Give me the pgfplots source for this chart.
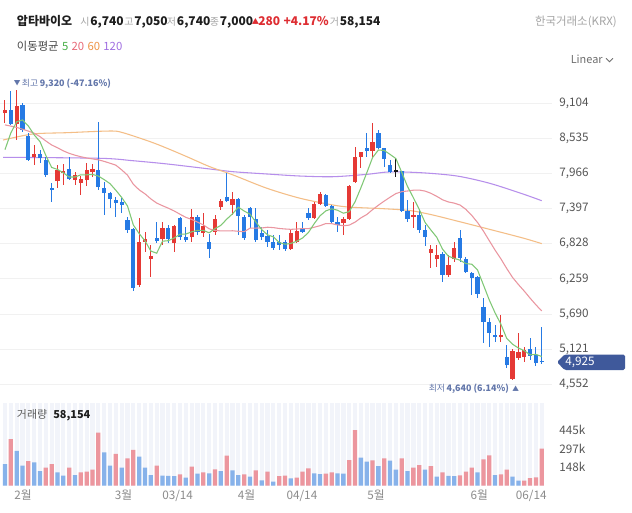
\documentclass[border=0pt]{standalone}
\usepackage{fontspec}
\setmainfont{Noto Sans CJK KR}
\usepackage{pgfplots}
\pgfplotsset{compat=1.18}
\usepackage{pgfplotstable}

\definecolor{cRed}{RGB}{229,57,53}
\definecolor{cBlue}{RGB}{38,122,228}
\definecolor{cDoji}{RGB}{25,25,25}
\definecolor{vRed}{RGB}{236,150,158}
\definecolor{vBlue}{RGB}{135,178,234}
\definecolor{ma5}{RGB}{128,200,118}
\definecolor{ma20}{RGB}{234,150,160}
\definecolor{ma60}{RGB}{244,190,135}
\definecolor{ma120}{RGB}{182,142,235}
\definecolor{gridc}{RGB}{241,241,241}
\definecolor{stripe}{RGB}{242,244,250}
\definecolor{cDark}{RGB}{30,30,30}
\definecolor{cLbl}{RGB}{165,165,165}
\definecolor{cHdrRed}{RGB}{222,45,50}
\definecolor{cAxis}{RGB}{85,85,85}
\definecolor{cX}{RGB}{140,140,140}
\definecolor{cMark}{RGB}{98,118,170}
\definecolor{cTag}{RGB}{63,89,155}
\definecolor{l5}{RGB}{70,175,70}
\definecolor{l20}{RGB}{232,105,120}
\definecolor{l60}{RGB}{238,148,70}
\definecolor{l120}{RGB}{160,110,225}
\definecolor{cG70}{RGB}{70,70,70}
\definecolor{cG90}{RGB}{90,90,90}
\definecolor{cG110}{RGB}{110,110,110}

\newcommand\fs[1]{\fontsize{#1}{#1}\selectfont}
\newcommand\hdr[2]{{\color{cLbl}\fs{7.5}#1}\hspace{0.6pt}{\color{cDark}\fs{9}\bfseries #2}}

% rising candles (close >= open): red
\pgfplotstableread{
i O H L C
0 8942 9152 8780 8990
2 8764 9320 8505 9055
5 8230 8424 8101 8279
9 7842 8101 7729 8020
10 7972 8117 7778 8004
12 7858 7988 7778 7939
13 7810 7923 7616 7875
14 7858 8133 7761 8020
15 7988 8117 7907 8036
23 6161 7244 6128 6856
24 6856 7018 6700 6904
25 6581 6807 6290 6630
27 6904 7179 6807 7082
29 6840 7131 6694 7115
32 6937 7390 6856 7260
34 7001 7325 6937 7115
36 7023 7293 6969 7222
37 7427 7547 7373 7524
39 7454 7670 7293 7547
49 6743 7050 6727 7001
50 6856 7179 6840 7034
53 7244 7503 7228 7470
54 7470 7664 7454 7632
58 7163 7260 6969 7228
59 7228 7778 7212 7761
60 7826 8392 7810 8230
61 8230 8311 8052 8311
63 8328 8780 8214 8473
70 7260 7503 7082 7293
73 6678 6807 6436 6743
74 6581 6807 6452 6646
76 6323 6646 6290 6484
77 6581 6856 6533 6759
85 5320 5676 5239 5352
87 4641 5126 4640 5094
88 4980 5384 4948 5077
89 4997 5158 4916 5110
}\upT

% falling candles: blue
\pgfplotstableread{
i O H L C
1 8990 9298 8748 8764
3 9071 9104 8635 8667
4 8570 8618 8166 8182
6 8279 8344 8133 8214
7 8182 8230 7907 7939
8 7729 7810 7503 7697
11 8036 8230 7858 7875
16 8020 8796 7697 7745
17 7729 7826 7293 7648
18 7648 7664 7406 7551
19 7535 7583 7260 7487
20 7503 7567 7325 7454
21 7212 7260 7001 7050
22 7066 7082 6070 6112
26 6921 7179 6840 6872
28 7082 7131 6840 6904
30 7244 7260 6888 6937
31 6937 7099 6856 6888
33 7260 7293 6969 7018
35 6856 6985 6597 6743
38 7583 7972 7503 7519
40 7551 7567 6969 7277
41 7260 7293 6888 6921
42 7406 7422 7082 7260
43 7228 7406 6856 6888
44 7001 7099 6888 6937
45 6953 7050 6775 6856
46 6856 6969 6727 6759
47 6856 6969 6727 6807
48 6856 6888 6710 6743
51 7082 7179 7001 7018
52 7325 7406 7212 7244
55 7616 7632 7422 7438
56 7438 7454 7163 7179
57 7179 7260 7018 7131
62 8376 8618 8230 8328
64 8618 8667 8360 8376
65 8376 8376 8069 8198
66 8101 8182 7972 7988
68 8004 8004 7341 7357
69 7357 7535 7179 7228
71 7293 7373 7001 7050
72 7050 7131 6791 6937
75 6662 6694 6209 6323
78 6921 7050 6533 6597
79 6581 6613 6355 6371
80 6355 6371 6000 6274
81 6290 6307 5951 6016
82 5805 5951 5223 5562
83 5562 5627 5158 5384
84 5352 5514 5239 5320
86 4997 5191 4819 4867
90 5126 5304 4948 5013
91 5029 5158 4851 4899
92 4932 5481 4883 4925
}\downT

% unchanged (doji)
\pgfplotstableread{
i O H L C
67 7996 8214 7907 7996
}\flatT

\pgfplotsset{
  wick/.style={draw=none, mark=none, forget plot,
    error bars/.cd, y dir=both, y explicit, error mark=none,
    error bar style={draw=#1, line width=0.75pt}},
  body/.style={draw=none, mark=none, forget plot,
    error bars/.cd, y dir=plus, y explicit, error mark=none,
    error bar style={draw=#1, line width=3.2pt, line cap=butt}},
  maline/.style={draw=#1, line width=0.8pt, mark=none, forget plot},
}

\begin{document}
\begin{tikzpicture}
\useasboundingbox (0,0) rectangle (474pt,-384pt);
\fill[white] (0,0) rectangle (474pt,-384pt);

% ---------------- price panel ----------------
\begin{axis}[
  at={(0pt,-63.75pt)}, anchor=north west,
  scale only axis, width=414pt, height=232.5pt,
  xmin=-0.857, xmax=93.76, ymin=4382, ymax=9395,
  axis line style={draw=none}, major tick length=0pt,
  xtick=\empty,
  ytick={4552,5121,5690,6259,6828,7397,7966,8535,9104},
  yticklabels={{4,552},{5,121},{5,690},{6,259},{6,828},{7,397},{7,966},{8,535},{9,104}},
  yticklabel pos=right,
  yticklabel style={anchor=west, inner sep=0pt, xshift=5.25pt, font=\fs{8.8}, text=cAxis},
  ymajorgrids, major grid style={draw=gridc, line width=0.7pt},
]
\addplot[maline=ma120, smooth] coordinates {(-0.34,8226) (16.3,8210) (21.9,8171) (27.8,8118) (35.1,8037) (39.1,7993) (44.9,7956) (50.6,7923) (56.2,7912) (62,7950) (66,7990) (71.6,7975) (77.5,7923) (83.1,7805) (88.8,7632) (92,7524)};
\addplot[maline=ma60, smooth] coordinates {(-0.34,8505) (4.8,8603) (10.6,8624) (18,8651) (20.2,8624) (24.9,8478) (27.8,8371) (31.2,8235) (35.1,8074) (39.1,7940) (44.9,7725) (50.6,7563) (56.2,7455) (59.1,7420) (64.8,7395) (69.4,7365) (73,7300) (77.5,7195) (83.1,7060) (88.8,6920) (92,6830)};

\addplot[wick=cRed] table[x=i, y=O, y error plus expr=\thisrow{H}-\thisrow{O}, y error minus expr=\thisrow{O}-\thisrow{L}] {\upT};
\addplot[body=cRed] table[x=i, y=O, y error plus expr=\thisrow{C}-\thisrow{O}] {\upT};
\addplot[wick=cBlue] table[x=i, y=C, y error plus expr=\thisrow{H}-\thisrow{C}, y error minus expr=\thisrow{C}-\thisrow{L}] {\downT};
\addplot[body=cBlue] table[x=i, y=C, y error plus expr=\thisrow{O}-\thisrow{C}] {\downT};
\addplot[wick=cDoji] table[x=i, y=O, y error plus expr=\thisrow{H}-\thisrow{O}, y error minus expr=\thisrow{O}-\thisrow{L}] {\flatT};
\addplot[body=cDoji] table[x=i, y=O, y error plus expr=\thisrow{C}-\thisrow{O}+20] {\flatT};

\addplot[maline=ma20] coordinates {(0,8750) (1,8730) (2,8710) (3,8680) (4,8650) (5,8615) (6,8560) (7,8490) (8,8425) (9,8380) (10,8330) (11,8290) (12,8260) (13,8235) (14,8215) (15,8200) (16,8185) (17,8160) (18,8130) (19,8099) (20,8023) (21,7937) (22,7790) (23,7699) (24,7635) (25,7553) (26,7486) (27,7443) (28,7403) (29,7358) (30,7305) (31,7255) (32,7221) (33,7178) (34,7133) (35,7069) (36,7043) (37,7036) (38,7035) (39,7038) (40,7029) (41,7023) (42,7080) (43,7082) (44,7083) (45,7095) (46,7089) (47,7075) (48,7067) (49,7061) (50,7066) (51,7073) (52,7072) (53,7095) (54,7120) (55,7155) (56,7153) (57,7133) (58,7119) (59,7129) (60,7177) (61,7246) (62,7300) (63,7379) (64,7451) (65,7518) (66,7580) (67,7639) (68,7670) (69,7681) (70,7694) (71,7696) (72,7680) (73,7644) (74,7595) (75,7539) (76,7504) (77,7485) (78,7454) (79,7384) (80,7287) (81,7172) (82,7034) (83,6879) (84,6726) (85,6584) (86,6428) (87,6283) (88,6169) (89,6063) (90,5949) (91,5841) (92,5741)};
\addplot[maline=ma5] coordinates {(0,8350) (1,8620) (2,8800) (3,8830) (4,8732) (5,8589) (6,8479) (7,8256) (8,8062) (9,8030) (10,7975) (11,7907) (12,7907) (13,7943) (14,7943) (15,7949) (16,7923) (17,7865) (18,7800) (19,7693) (20,7577) (21,7438) (22,7131) (23,6992) (24,6875) (25,6710) (26,6675) (27,6869) (28,6878) (29,6921) (30,6982) (31,6985) (32,7021) (33,7044) (34,7044) (35,7005) (36,7073) (37,7125) (38,7225) (39,7312) (40,7419) (41,7357) (42,7306) (43,7179) (44,7057) (45,6972) (46,6940) (47,6849) (48,6820) (49,6833) (50,6869) (51,6921) (52,7008) (53,7153) (54,7280) (55,7360) (56,7393) (57,7370) (58,7322) (59,7347) (60,7506) (61,7732) (62,7972) (63,8221) (64,8344) (65,8337) (66,8273) (67,8206) (68,7983) (69,7753) (70,7572) (71,7385) (72,7173) (73,7050) (74,6934) (75,6740) (76,6627) (77,6591) (78,6562) (79,6507) (80,6497) (81,6403) (82,6164) (83,5921) (84,5711) (85,5527) (86,5297) (87,5203) (88,5142) (89,5100) (90,5032) (91,5039) (92,5005)};
\end{axis}

% ---------------- volume panel ----------------
\begin{axis}[
  at={(0pt,-302.25pt)}, anchor=north west,
  scale only axis, width=414pt, height=61.875pt,
  xmin=-0.857, xmax=93.76, ymin=0, ymax=662,
  axis line style={draw=none}, major tick length=0pt,
  xtick={3.1,20.3,29.6,41.4,50.9,63.6,81.3,90.2},
  xticklabels={2월,3월,03/14,4월,04/14,5월,6월,06/14},
  xticklabel style={inner sep=0pt, yshift=-3.4pt, font=\fs{8.8}, text=cX},
  extra x ticks={0,1,...,92},
  extra x tick labels={},
  extra x tick style={xmajorgrids=true, major grid style={draw=stripe, line width=3.2pt}},
  ytick={148,297,445},
  yticklabels={148k,297k,445k},
  yticklabel pos=right,
  yticklabel style={anchor=west, inner sep=0pt, xshift=5.25pt, font=\fs{8.8}, text=cAxis},
]
\addplot[ybar, bar width=3.2pt, bar shift=0pt, fill=vRed, draw=none, forget plot] coordinates {(1,373) (4,196) (7,143) (8,172) (11,143) (13,106) (14,111) (15,127) (16,424) (19,253) (21,218) (22,285) (26,159) (30,90) (32,151) (34,106) (36,130) (38,239) (41,90) (43,122) (45,111) (47,76) (48,80) (50,63) (51,111) (52,138) (55,96) (56,106) (59,204) (60,445) (63,202) (65,218) (68,218) (70,143) (71,164) (73,156) (75,106) (78,82) (79,111) (80,143) (82,210) (83,242) (85,90) (86,127) (89,40) (90,60) (91,65) (92,295)};
\addplot[ybar, bar width=3.2pt, bar shift=0pt, fill=vBlue, draw=none, forget plot] coordinates {(0,172) (2,277) (3,159) (5,186) (6,116) (9,106) (10,79) (12,84) (17,266) (18,159) (20,143) (23,231) (24,143) (25,84) (27,79) (28,77) (29,75) (31,63) (33,95) (35,98) (37,116) (39,122) (40,84) (42,71) (44,42) (46,31) (49,58) (53,98) (54,92) (57,98) (58,95) (61,223) (62,191) (64,156) (66,199) (67,127) (69,116) (72,127) (74,71) (76,78) (77,76) (81,106) (84,84) (87,71) (88,39)};
\end{axis}

% ---------------- texts ----------------
\begin{scope}[x=0.75pt, y=-0.75pt, every node/.style={inner sep=0pt}]
\tikzset{T/.style={anchor=base west}}
% header line
\node[T, font=\fs{9}\bfseries, text=cDark] at (16.7,25) {압타바이오};
\node[T] at (80,25) {\hdr{시}{6,740}};
\node[T] at (124,25) {\hdr{고}{7,050}};
\node[T] at (166.7,25) {\hdr{저}{6,740}};
\node[T] at (209.5,25) {\hdr{종}{7,000}};
\node[T, font=\fs{5.5}, text=cHdrRed] at (251.5,24) {▲};
\node[T, font=\fs{9}\bfseries, text=cHdrRed] at (258,25) {280\hspace{2.5pt}+4.17\%};
\node[T] at (329.5,25) {\hdr{거}{58,154}};
\node[anchor=base east, font=\fs{8.6}, text=cLbl] at (617,25) {한국거래소(KRX)};
% moving average legend
\node[T, font=\fs{8.5}] at (16.7,50.5) {{\color{cG70}이동평균}\hspace{2.5pt}{\color{l5}5}\hspace{2.5pt}{\color{l20}20}\hspace{2.5pt}{\color{l60}60}\hspace{2.5pt}{\color{l120}120}};
% Linear
\node[T, font=\fs{8.2}, text=cG110] at (570.5,63.5) {Linear};
\draw[draw=cG110, line width=0.6pt] (606,58.3) -- (609.5,61.8) -- (613,58.3);
% high marker
\node[T, font=\fs{5}, text=cMark] at (13.5,85.5) {▼};
\node[T, text=cMark] at (21.7,86.5) {{\fs{6.6}최고}\hspace{1.2pt}{\fs{6.7}\bfseries 9,320 (-47.16\%)}};
% low marker
\node[T, text=cMark] at (428.5,391.5) {{\fs{6.6}최저}\hspace{1.2pt}{\fs{6.7}\bfseries 4,640 (6.14\%)}\hspace{2.5pt}{\fs{5}▲}};
% last price tag
\fill[cTag, rounded corners=1.2] (557,362) -- (564.5,354.5) -- (625,354.5) -- (625,370) -- (564.5,370) -- cycle;
\node[anchor=center, font=\fs{8.8}, text=white] at (580,362.3) {4,925};
% volume title
\node[T, font=\fs{8.2}, text=cG90] at (16.7,418.5) {거래량};
\node[T, font=\fs{8.2}\bfseries, text=cDark] at (53,418.5) {58,154};
\end{scope}
\end{tikzpicture}
\end{document}
